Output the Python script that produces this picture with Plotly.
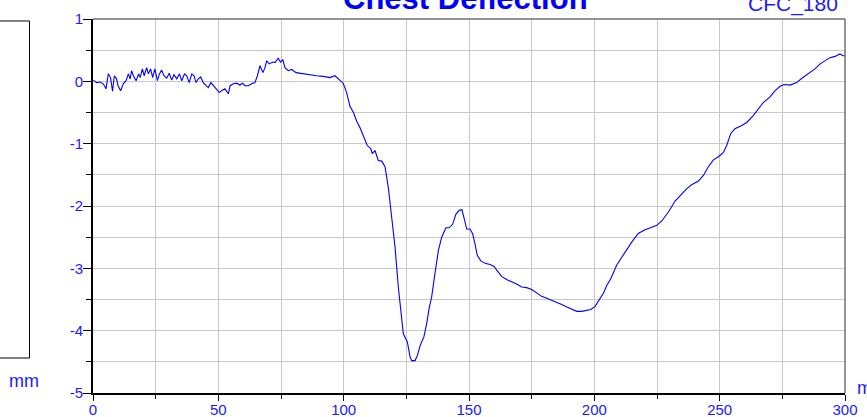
import plotly.graph_objects as go

time_ms = [0.1, 1.5, 2.8, 4.1, 5.2, 6.1, 7.0, 7.8, 8.5, 9.4, 10.0, 11.0, 12.1, 13.2, 14.1, 14.8,
           15.4, 16.1, 17.2, 18.2, 18.8, 19.7, 20.4, 21.4, 22.1, 23.0, 23.8, 24.7, 25.7, 26.5,
           27.4, 28.3, 29.4, 30.4, 31.4, 32.3, 33.4, 34.5, 35.4, 36.5, 37.4, 38.4, 39.4, 40.3,
           41.1, 42.0, 42.9, 44.0, 45.1, 46.0, 47.0, 48.0, 49.3, 50.4, 51.3, 52.6, 54.0, 54.7,
           56.0, 57.3, 58.6, 59.7, 60.6, 62.0, 63.3, 64.6, 65.6, 66.6, 67.8, 68.6, 69.3, 70.3,
           71.7, 72.6, 73.9, 74.8, 75.7, 76.6, 77.9, 79.3, 81.0, 82.6, 84.6, 86.6, 89.2, 91.9,
           94.5, 96.5, 98.3, 99.8, 101.2, 102.5, 103.9, 105.2, 106.5, 107.8, 109.4, 110.8, 111.4,
           112.5, 113.8, 115.2, 116.5, 117.8, 119.2, 120.5, 121.8, 122.8, 123.8, 125.4, 126.5,
           127.1, 128.5, 129.4, 130.5, 132.0, 133.1, 134.2, 135.1, 136.4, 137.8, 139.1, 140.8,
           142.1, 143.5, 144.8, 146.1, 147.2, 148.0, 149.1, 150.4, 151.5, 152.4, 153.3, 154.7,
           156.4, 158.4, 160.0, 161.3, 163.0, 165.0, 167.0, 169.0, 171.0, 173.0, 175.0, 177.0,
           179.0, 181.0, 183.0, 185.0, 187.0, 189.0, 191.0, 193.0, 195.0, 197.0, 198.6, 200.3,
           202.0, 203.6, 205.0, 206.5, 208.9, 212.2, 214.9, 217.5, 220.2, 222.9, 224.9, 226.9,
           229.5, 232.2, 234.9, 236.9, 238.8, 241.5, 243.5, 245.5, 247.5, 249.5, 251.5, 252.8,
           254.4, 256.1, 258.8, 260.8, 263.4, 265.4, 267.4, 270.1, 272.1, 274.1, 275.7, 278.1,
           280.7, 282.8, 285.4, 288.0, 290.1, 292.0, 294.0, 296.0, 298.0, 299.1, 300.0]

deflection_mm = [0.02, -0.02, -0.01, -0.04, -0.12, 0.12, 0.06, -0.16, 0.09, 0.04, -0.07, -0.15, -0.04, 0.01, 0.12, 0.04,
                 0.17, 0.09, 0.01, 0.12, 0.06, 0.20, 0.09, 0.22, 0.12, 0.20, 0.06, 0.20, 0.01, 0.12,
                 0.18, 0.09, 0.05, 0.13, 0.02, 0.11, 0.04, 0.12, 0.01, 0.12, 0.09, -0.02, 0.12, 0.09,
                 -0.02, 0.04, 0.07, -0.02, -0.07, -0.10, -0.02, -0.07, -0.12, -0.18, -0.15, -0.12, -0.20, -0.07,
                 -0.04, -0.03, -0.06, -0.03, -0.07, -0.07, -0.04, -0.02, 0.09, 0.25, 0.14, 0.22, 0.33, 0.28,
                 0.31, 0.30, 0.37, 0.31, 0.35, 0.22, 0.17, 0.19, 0.14, 0.13, 0.11, 0.10, 0.09, 0.08,
                 0.06, 0.09, 0.02, -0.03, -0.18, -0.40, -0.50, -0.64, -0.74, -0.87, -1.03, -1.08, -1.16,
                 -1.11, -1.27, -1.28, -1.37, -1.70, -2.18, -2.66, -3.30, -3.73, -4.05, -4.18, -4.42,
                 -4.48, -4.48, -4.40, -4.24, -4.10, -3.89, -3.62, -3.46, -3.09, -2.71, -2.50, -2.35,
                 -2.35, -2.29, -2.13, -2.07, -2.06, -2.18, -2.37, -2.37, -2.45, -2.61, -2.79, -2.88,
                 -2.92, -2.94, -2.97, -3.04, -3.13, -3.18, -3.21, -3.25, -3.30, -3.31, -3.34, -3.40,
                 -3.45, -3.48, -3.51, -3.55, -3.58, -3.62, -3.66, -3.69, -3.69, -3.67, -3.66, -3.61,
                 -3.51, -3.40, -3.27, -3.17, -2.95, -2.74, -2.58, -2.44, -2.38, -2.34, -2.31, -2.24,
                 -2.10, -1.92, -1.80, -1.72, -1.66, -1.60, -1.51, -1.37, -1.26, -1.21, -1.14, -1.03,
                 -0.84, -0.76, -0.71, -0.66, -0.55, -0.44, -0.34, -0.25, -0.15, -0.08, -0.05, -0.06,
                 -0.02, 0.05, 0.12, 0.20, 0.28, 0.33, 0.38, 0.40, 0.44, 0.41, 0.41]

x_ticks = [0, 50, 100, 150, 200, 250, 300]
x_tick_labels = ["0", "50", "100", "150", "200", "250", "300"]
y_ticks = [-5, -4, -3, -2, -1, 0, 1]
y_tick_labels = ["-5", "-4", "-3", "-2", "-1", "0", "1"]

title_text = "Chest Deflection"
filter_text = "CFC_180"
y_unit = "mm"
x_unit = "ms"

FONT = "Arial, Liberation Sans, sans-serif"
BLUE = "#0000FF"
TXT = "#1a1aff"

fig = go.Figure()
fig.add_trace(go.Scatter(x=time_ms, y=deflection_mm, mode="lines",
                         line=dict(color=BLUE, width=1.1), showlegend=False))

axis_common = dict(showline=True, linecolor="black", linewidth=2,
                   showgrid=True, gridcolor="#c8c8c8", gridwidth=1,
                   ticks="outside", tickcolor="black", tickwidth=1,
                   tickfont=dict(family=FONT, size=15, color=TXT),
                   zeroline=False, automargin=False)

fig.update_xaxes(range=[0, 300], tickvals=x_ticks, ticktext=x_tick_labels, ticklen=6,
                 minor=dict(dtick=25, showgrid=True, gridcolor="#c8c8c8",
                            ticks="outside", ticklen=4, tickcolor="black"),
                 ticklabelstandoff=-4, **axis_common)
fig.update_yaxes(range=[-5, 1], tickvals=y_ticks, ticktext=y_tick_labels, ticklen=8,
                 minor=dict(dtick=0.5, showgrid=True, gridcolor="#c8c8c8",
                            ticks="outside", ticklen=5, tickcolor="black"),
                 ticklabelstandoff=-3, **axis_common)

shapes = [
    dict(type="line", xref="paper", yref="paper", x0=0, x1=1, y0=1, y1=1,
         line=dict(color="#707070", width=1.5)),
    dict(type="line", xref="paper", yref="paper", x0=1, x1=1, y0=0, y1=1,
         line=dict(color="#707070", width=1.5)),
    dict(type="rect", xref="paper", yref="paper", x0=-0.2, x1=-0.0844, y0=0.0936, y1=0.9947,
         line=dict(color="black", width=1), fillcolor="white", layer="below"),
]

annotations = [
    dict(text="<b>" + title_text + "</b>", xref="paper", yref="paper", x=0.4953, y=1.056,
         xanchor="center", yanchor="middle", showarrow=False,
         font=dict(family=FONT, size=31, color=BLUE)),
    dict(text=filter_text, xref="paper", yref="paper", x=0.931, y=1.039,
         xanchor="center", yanchor="middle", showarrow=False,
         font=dict(family=FONT, size=21, color=TXT)),
    dict(text=y_unit, xref="paper", yref="paper", x=-0.0918, y=0.0334,
         xanchor="center", yanchor="middle", showarrow=False,
         font=dict(family=FONT, size=18, color=TXT)),
    dict(text=x_unit, xref="paper", yref="paper", x=1.0133, y=0.0147,
         xanchor="left", yanchor="middle", showarrow=False,
         font=dict(family=FONT, size=18, color=TXT)),
]

fig.update_layout(width=867, height=417, margin=dict(l=93, r=22, t=19, b=24, autoexpand=False),
                  plot_bgcolor="white", paper_bgcolor="white",
                  shapes=shapes, annotations=annotations, showlegend=False)

fig.write_html("out.html", config={"displayModeBar": False},
               post_script="document.body.style.margin='0px';")
